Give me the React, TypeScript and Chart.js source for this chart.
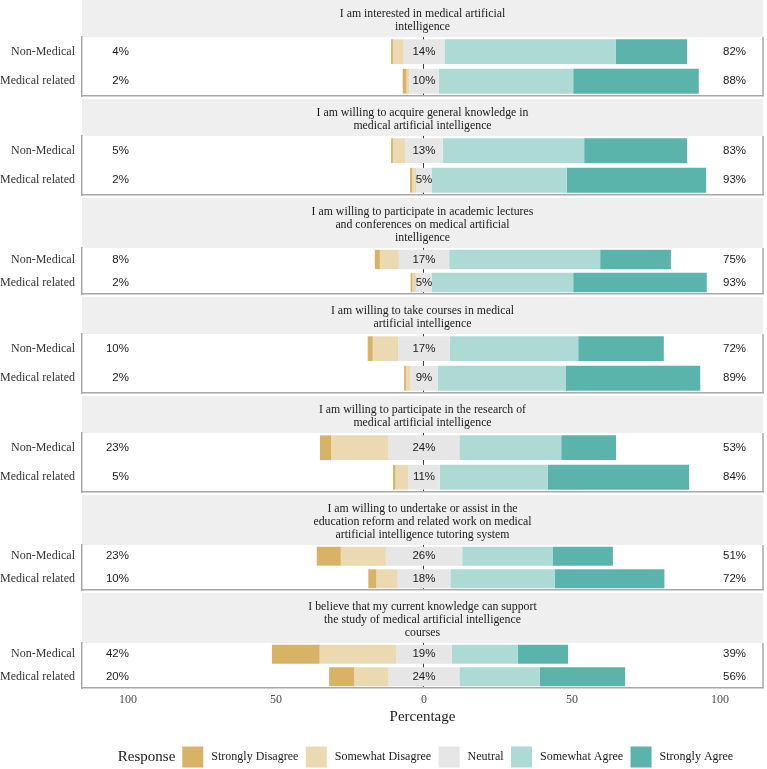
import React, { useEffect, useRef } from "react";
import { Chart, registerables } from "chart.js";

Chart.register(...registerables);

// ---------- data ----------
const GROUPS = ["Non-Medical", "Medical related"];

const ITEMS: string[][] = [
  ["I am interested in medical artificial", "intelligence"],
  ["I am willing to acquire general knowledge in", "medical artificial intelligence"],
  ["I am willing to participate in academic lectures", "and conferences on medical artificial", "intelligence"],
  ["I am willing to take courses in medical", "artificial intelligence"],
  ["I am willing to participate in the research of", "medical artificial intelligence"],
  ["I am willing to undertake or assist in the", "education reform and related work on medical", "artificial intelligence tutoring system"],
  ["I believe that my current knowledge can support", "the study of medical artificial intelligence", "courses"],
];

const RESPONSES = ["Strongly Disagree", "Somewhat Disagree", "Neutral", "Somewhat Agree", "Strongly Agree"];

// Non-Medical (percent per response level, one value per item)
const NONMED_SD = [0.6, 0.6, 1.7, 1.7, 3.8, 8.1, 16.1];
const NONMED_SWD = [3.6, 4.2, 6.4, 8.6, 19.4, 15.2, 25.9];
const NONMED_N = [13.8, 12.6, 17.0, 17.4, 23.9, 25.8, 18.7];
const NONMED_SA = [57.8, 47.8, 51.0, 43.4, 34.4, 30.5, 22.3];
const NONMED_STA = [24.2, 34.8, 23.9, 28.9, 18.5, 20.4, 17.0];

// Medical related
const MED_SD = [1.3, 0.7, 0.6, 0.6, 0.8, 2.7, 8.5];
const MED_SWD = [0.9, 1.3, 1.2, 1.5, 4.3, 7.2, 11.6];
const MED_N = [10.0, 5.4, 5.4, 9.2, 10.7, 17.8, 23.9];
const MED_SA = [45.4, 45.5, 47.7, 43.2, 36.5, 35.3, 27.2];
const MED_STA = [42.4, 47.1, 45.1, 45.5, 47.7, 37.0, 28.8];

const X_TICKS = [-100, -50, 0, 50, 100];
const X_MIN = -115.5;
const X_MAX = 114.5;

// ---------- style ----------
const COLORS = ["#D8B365", "#EBD9B2", "#E6E6E6", "#AEDAD5", "#5AB4AC"];
const SERIF = '"Liberation Serif", "Times New Roman", serif';
const SANS = '"Liberation Sans", Arial, sans-serif';
const BORDER = "#A8A8A8";
const STRIP_BG = "#EFEFEF";
const FACET_TOPS = [0, 99, 198, 297, 396, 495, 593];
const PAGE_H = 769;

function groupValues(i: number): number[][] {
  return [
    [NONMED_SD[i], NONMED_SWD[i], NONMED_N[i], NONMED_SA[i], NONMED_STA[i]],
    [MED_SD[i], MED_SWD[i], MED_N[i], MED_SA[i], MED_STA[i]],
  ];
}

function Facet({ index, top, height, last }: { index: number; top: number; height: number; last: boolean }) {
  const ref = useRef<HTMLCanvasElement>(null);

  useEffect(() => {
    if (!ref.current) return;
    const values = groupValues(index);
    const ranges = values.map((v) => {
      let acc = -(v[0] + v[1] + v[2] / 2);
      return v.map((x) => {
        const r = [acc, acc + x];
        acc += x;
        return r;
      });
    });

    const datasets = RESPONSES.map((r, k) => ({
      label: r,
      data: ranges.map((g) => g[k]),
      backgroundColor: COLORS[k],
      borderWidth: 0,
      grouped: false,
      barPercentage: 0.84,
      categoryPercentage: 1,
    }));

    const stripPlugin = {
      id: "strip",
      beforeDraw(chart: any) {
        const { ctx, chartArea } = chart;
        const t = chart.titleBlock;
        ctx.save();
        ctx.fillStyle = STRIP_BG;
        ctx.fillRect(chartArea.left, t.top, chartArea.right - chartArea.left, t.bottom - t.top);
        ctx.restore();
      },
    };

    const labelPlugin = {
      id: "labels",
      afterDatasetsDraw(chart: any) {
        const { ctx, chartArea } = chart;
        const xs = chart.scales.x;
        const ys = chart.scales.y;
        ctx.save();
        // right border of panel
        ctx.strokeStyle = BORDER;
        ctx.lineWidth = 1.5;
        ctx.beginPath();
        ctx.moveTo(chartArea.right, chartArea.top);
        ctx.lineTo(chartArea.right, chartArea.bottom);
        ctx.stroke();

        ctx.font = `11.5px ${SANS}`;
        ctx.fillStyle = "#1A1A1A";
        ctx.textBaseline = "middle";
        values.forEach((v, gi) => {
          const y = ys.getPixelForValue(gi);
          const left = Math.round(v[0] + v[1]);
          const mid = Math.round(v[2]);
          const right = Math.round(v[3] + v[4]);
          ctx.textAlign = "right";
          ctx.fillText(`${left}%`, xs.getPixelForValue(-100) + 1, y);
          ctx.textAlign = "center";
          ctx.fillText(`${mid}%`, xs.getPixelForValue(0), y);
          ctx.textAlign = "left";
          ctx.fillText(`${right}%`, xs.getPixelForValue(100) + 3, y);
        });
        ctx.restore();
      },
    };

    const legendPlugin = {
      id: "likertLegend",
      afterDraw(chart: any) {
        if (!last) return;
        const { ctx, chartArea } = chart;
        const y = chart.height - 12;
        const box = 21;
        ctx.save();
        ctx.textBaseline = "middle";
        ctx.font = `15px ${SERIF}`;
        const wTitle = ctx.measureText("Response").width;
        ctx.font = `12px ${SERIF}`;
        const widths = RESPONSES.map((r) => ctx.measureText(r).width);
        const total = wTitle + 7 + widths.reduce((s, w) => s + box + 8 + w, 0) + 7.5 * (RESPONSES.length - 1);
        let x = (chartArea.left + chartArea.right) / 2 - total / 2 + 3;
        ctx.fillStyle = "#1A1A1A";
        ctx.textAlign = "left";
        ctx.font = `15px ${SERIF}`;
        ctx.fillText("Response", x, y);
        x += wTitle + 7;
        ctx.font = `12px ${SERIF}`;
        RESPONSES.forEach((r, k) => {
          ctx.fillStyle = COLORS[k];
          ctx.fillRect(x, y - box / 2, box, box);
          x += box + 8;
          ctx.fillStyle = "#1A1A1A";
          ctx.fillText(r, x, y);
          x += widths[k] + 7.5;
        });
        ctx.restore();
      },
    };

    const chart = new Chart(ref.current, {
      type: "bar",
      data: { labels: GROUPS, datasets: datasets as any },
      options: {
        indexAxis: "y",
        animation: false,
        responsive: true,
        maintainAspectRatio: false,
        layout: { padding: { left: 0, right: 4, top: 0, bottom: last ? 42 : 3 } },
        plugins: {
          legend: { display: false },
          tooltip: { enabled: false },
          title: {
            display: true,
            text: ITEMS[index],
            fullSize: false,
            color: "#1A1A1A",
            font: { family: SERIF, size: 11.8, lineHeight: 1.1, weight: "normal" as any },
            padding: { top: 7, bottom: 4 },
          },
        },
        scales: {
          x: {
            type: "linear",
            min: X_MIN,
            max: X_MAX,
            afterBuildTicks: (s: any) => {
              s.ticks = X_TICKS.map((v) => ({ value: v }));
            },
            afterFit: (s: any) => {
              s.height = last ? 39 : 0;
              s.paddingLeft = 0;
              s.paddingRight = 0;
            },
            grid: {
              drawTicks: false,
              lineWidth: 1,
              color: (c: any) => (c.tick && c.tick.value === 0 ? "#3A3A3A" : "rgba(0,0,0,0)"),
            },
            border: { display: true, color: BORDER, width: 1.5 },
            ticks: {
              display: last,
              padding: 5,
              color: "#4D4D4D",
              font: { family: SERIF, size: 12 },
              callback: (v: any) => String(Math.abs(Number(v))),
            },
            title: {
              display: last,
              text: "Percentage",
              color: "#1A1A1A",
              font: { family: SERIF, size: 15 },
              padding: { top: 1, bottom: 1 },
            },
          },
          y: {
            type: "category",
            afterFit: (s: any) => {
              s.width = 82;
              s.paddingTop = 0;
              s.paddingBottom = 0;
            },
            grid: { display: true, drawTicks: false, color: "rgba(0,0,0,0)" },
            border: { display: true, color: BORDER, width: 1.5 },
            ticks: { padding: 7, color: "#333333", font: { family: SERIF, size: 12 } },
          },
        },
      },
      plugins: [stripPlugin, labelPlugin, legendPlugin],
    });
    return () => chart.destroy();
  }, [index, last]);

  return (
    <div style={{ position: "absolute", left: 0, top, width: 767, height }}>
      <canvas ref={ref} />
    </div>
  );
}

export default function App() {
  return (
    <div style={{ position: "fixed", left: 0, top: 0, width: 767, height: PAGE_H, background: "#FFFFFF", overflow: "hidden" }}>
      {ITEMS.map((_, i) => {
        const top = FACET_TOPS[i];
        const last = i === ITEMS.length - 1;
        const height = last ? PAGE_H - top : FACET_TOPS[i + 1] - top;
        return <Facet key={i} index={i} top={top} height={height} last={last} />;
      })}
    </div>
  );
}
